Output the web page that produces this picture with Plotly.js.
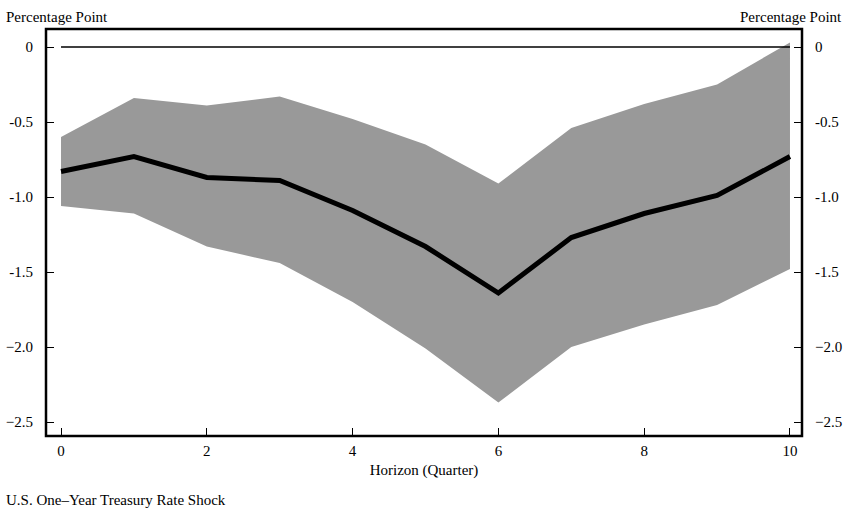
<!DOCTYPE html>
<html>
<head>
<script src="https://cdn.plot.ly/plotly-3.0.1.min.js"></script>
<style>body{margin:0}</style>
</head>
<body>
<div id="chart" style="width:851px;height:512px"></div>
<script>
const horizon = [0, 1, 2, 3, 4, 5, 6, 7, 8, 9, 10];
const response = [-0.83, -0.73, -0.87, -0.89, -1.09, -1.33, -1.64, -1.27, -1.11, -0.99, -0.73];
const upper = [-0.60, -0.34, -0.39, -0.33, -0.48, -0.65, -0.91, -0.54, -0.38, -0.25, 0.03];
const lower = [-1.06, -1.11, -1.33, -1.44, -1.70, -2.01, -2.37, -2.00, -1.85, -1.72, -1.48];
const yTicks = [0, -0.5, -1.0, -1.5, -2.0, -2.5];
const yTickText = ['0', '-0.5', '-1.0', '-1.5', '\u22122.0', '\u22122.5'];

const font = { family: 'Liberation Serif, serif', size: 15, color: '#000' };

const data = [
    { x: horizon, y: upper, mode: 'lines', line: { width: 0 }, hoverinfo: 'skip', showlegend: false },
    { x: horizon, y: lower, mode: 'lines', line: { width: 0 }, fill: 'tonexty', fillcolor: '#999999', showlegend: false },
    { x: horizon, y: response, mode: 'lines', line: { color: '#000', width: 5 }, showlegend: false },
    { x: horizon, y: response, yaxis: 'y2', mode: 'none', showlegend: false, hoverinfo: 'skip' }
];

const yBase = {
    range: [-2.593, 0.12], tickvals: yTicks, ticktext: yTickText,
    ticks: 'inside', ticklen: 8, tickwidth: 1, tickcolor: '#000',
    showgrid: false, zeroline: false, showline: false,
    tickfont: font, ticklabelstandoff: 12
};

const layout = {
    width: 851, height: 512,
    margin: { l: 46, r: 49, t: 29, b: 76 },
    paper_bgcolor: '#fff', plot_bgcolor: '#fff',
    font: font,
    xaxis: {
        range: [-0.206, 10.165], tickvals: [0, 2, 4, 6, 8, 10],
        ticks: 'inside', ticklen: 8, tickcolor: '#000',
        showgrid: false, zeroline: false, showline: false,
        tickfont: font, ticklabelstandoff: 4,
        title: { text: 'Horizon (Quarter)', font: font, standoff: 6 }
    },
    yaxis: Object.assign({}, yBase),
    yaxis2: Object.assign({}, yBase, { overlaying: 'y', side: 'right' }),
    shapes: [
        { type: 'line', xref: 'x', yref: 'y', x0: 0, x1: 10, y0: 0, y1: 0, line: { color: '#000', width: 1.3 } },
        { type: 'rect', xref: 'paper', yref: 'paper', x0: 0, x1: 1, y0: 0, y1: 1, line: { color: '#000', width: 2.5 } }
    ],
    annotations: [
        { text: 'Percentage Point', xref: 'paper', yref: 'paper', x: -0.055, y: 1, yshift: 2, xanchor: 'left', yanchor: 'bottom', showarrow: false, font: font },
        { text: 'Percentage Point', xref: 'paper', yref: 'paper', x: 1.055, y: 1, yshift: 2, xanchor: 'right', yanchor: 'bottom', showarrow: false, font: font },
        { text: 'U.S. One\u2013Year Treasury Rate Shock', xref: 'paper', yref: 'paper', x: -0.055, y: 0, yshift: -54, xanchor: 'left', yanchor: 'top', showarrow: false, font: font }
    ]
};

Plotly.newPlot('chart', data, layout, { displayModeBar: false });
</script>
</body>
</html>
